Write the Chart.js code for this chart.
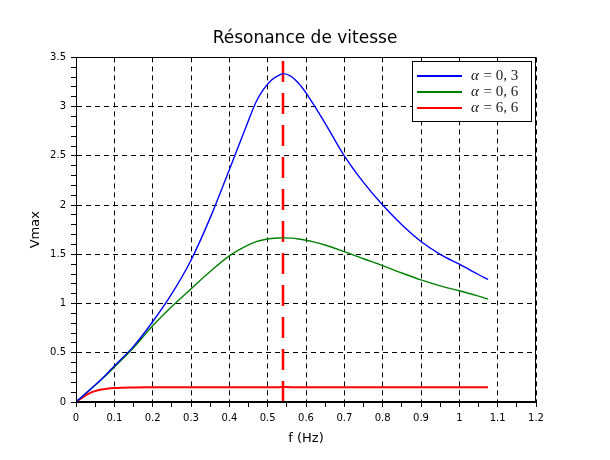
<!DOCTYPE html>
<html>
<head>
<meta charset="utf-8">
<script src="https://cdn.jsdelivr.net/npm/chart.js@4/dist/chart.umd.min.js"></script>
<style>
  html, body { margin: 0; padding: 0; background: #fff; }
  #wrap { width: 610px; height: 460px; }
</style>
</head>
<body>
<div id="wrap"><canvas id="vmax-chart" width="610" height="460"></canvas></div>
<script>
// frequencies (Hz)
const freqHz = [0, 0.02, 0.04, 0.06, 0.08, 0.1, 0.15, 0.2, 0.25, 0.3, 0.35, 0.4, 0.45, 0.47, 0.49, 0.51,
  0.53, 0.54, 0.56, 0.58, 0.6, 0.62, 0.65, 0.7, 0.75, 0.8, 0.85, 0.9, 0.95, 1.0, 1.05, 1.075];

// Vmax for each damping value
const vmaxA03 = [0, 0.069, 0.138, 0.208, 0.285, 0.366, 0.565, 0.815, 1.10, 1.44, 1.87, 2.36, 2.86, 3.05, 3.18, 3.27,
  3.32, 3.335, 3.31, 3.24, 3.14, 3.02, 2.83, 2.50, 2.23, 2.0, 1.80, 1.63, 1.50, 1.40, 1.295, 1.245];
const vmaxA06 = [0, 0.069, 0.137, 0.206, 0.276, 0.354, 0.55, 0.774, 0.97, 1.149, 1.325, 1.484, 1.595, 1.628, 1.648, 1.66,
  1.666, 1.667, 1.664, 1.656, 1.643, 1.626, 1.595, 1.527, 1.455, 1.385, 1.31, 1.24, 1.18, 1.13, 1.075, 1.045];
const vmaxA66 = [0, 0.055, 0.097, 0.122, 0.134, 0.141, 0.147, 0.149, 0.15, 0.15, 0.151, 0.151, 0.151, 0.151, 0.151, 0.151,
  0.151, 0.1515, 0.151, 0.151, 0.151, 0.151, 0.151, 0.151, 0.15, 0.15, 0.15, 0.15, 0.149, 0.149, 0.149, 0.149];

const seriesLabels = ["0,3", "0,6", "6,6"];
const seriesColors = ["#0000ff", "#008000", "#ff0000"];

const fResonance = 0.54; // red dashed marker
const xMin = 0, xMax = 1.2, xMajor = 0.1, xMinor = 0.05;
const yMin = 0, yMax = 3.5, yMajor = 0.5, yMinor = 0.1;

function toPoints(ys) {
  return freqHz.map((f, i) => ({ x: f, y: ys[i] }));
}

function isMultiple(v, step) {
  const r = v / step;
  return Math.abs(r - Math.round(r)) < 1e-6;
}

function fmt(v) {
  return String(Math.round(v * 10) / 10);
}

// frame around the plot area (Scilab style box)
const boxPlugin = {
  id: "box",
  afterDatasetsDraw(chart) {
    const { ctx, chartArea: a } = chart;
    ctx.save();
    ctx.strokeStyle = "#000";
    ctx.lineWidth = 1;
    ctx.strokeRect(Math.round(a.left) + 0.5, Math.round(a.top) + 0.5,
      Math.round(a.right - a.left) - 1, Math.round(a.bottom - a.top) - 1);
    ctx.restore();
  }
};

// legend drawn inside the plot, top right
const legendBoxPlugin = {
  id: "legendBox",
  afterDraw(chart) {
    const { ctx, chartArea: a } = chart;
    const w = 119, h = 60;
    const left = a.right - 5 - w;
    const top = a.top + 4;
    ctx.save();
    ctx.fillStyle = "#fff";
    ctx.fillRect(left, top, w, h);
    ctx.strokeStyle = "#000";
    ctx.lineWidth = 1;
    ctx.strokeRect(Math.round(left) + 0.5, Math.round(top) + 0.5, w, h);

    seriesLabels.forEach((lab, i) => {
      const y = top + 14.5 + i * 16;
      ctx.strokeStyle = seriesColors[i];
      ctx.lineWidth = 2;
      ctx.beginPath();
      ctx.moveTo(left + 5, y);
      ctx.lineTo(left + 50, y);
      ctx.stroke();

      ctx.fillStyle = "#222";
      ctx.textBaseline = "middle";
      let x = left + 59;
      ctx.font = "italic 15px 'Liberation Serif'";
      ctx.fillText("\u03b1", x, y);
      x += ctx.measureText("\u03b1").width;
      ctx.font = "15px 'Liberation Serif'";
      const rest = " = " + lab.replace(",", ", ");
      ctx.fillText(rest, x + 1, y);
    });
    ctx.restore();
  }
};

const ctx = document.getElementById("vmax-chart").getContext("2d");

new Chart(ctx, {
  type: "line",
  data: {
    datasets: [
      {
        label: "alpha = 0,3",
        data: toPoints(vmaxA03),
        borderColor: seriesColors[0],
        borderWidth: 1.4,
        cubicInterpolationMode: "monotone",
        pointRadius: 0
      },
      {
        label: "alpha = 0,6",
        data: toPoints(vmaxA06),
        borderColor: seriesColors[1],
        borderWidth: 1.4,
        cubicInterpolationMode: "monotone",
        pointRadius: 0
      },
      {
        label: "alpha = 6,6",
        data: toPoints(vmaxA66),
        borderColor: seriesColors[2],
        borderWidth: 2,
        cubicInterpolationMode: "monotone",
        pointRadius: 0
      },
      {
        label: "resonance",
        data: [{ x: fResonance, y: yMin }, { x: fResonance, y: yMax }],
        borderColor: "#ff0000",
        borderWidth: 2.5,
        borderDash: [21, 11],
        pointRadius: 0,
        tension: 0
      }
    ]
  },
  options: {
    responsive: false,
    animation: false,
    devicePixelRatio: 1,
    layout: {
      padding: { left: 0, right: 0, top: 0, bottom: 10 }
    },
    plugins: {
      legend: { display: false },
      tooltip: { enabled: false },
      title: {
        display: true,
        text: "Résonance de vitesse",
        color: "#000",
        font: { family: "'DejaVu Sans'", size: 17, weight: "normal" },
        padding: { top: 28, bottom: 9 }
      }
    },
    scales: {
      x: {
        type: "linear",
        min: xMin,
        max: xMax,
        afterFit: (s) => { s.height = 48; },
        ticks: {
          stepSize: xMinor,
          maxTicksLimit: 100,
          autoSkip: false,
          maxRotation: 0,
          padding: 5,
          color: "#000",
          font: { family: "'DejaVu Sans'", size: 10 },
          callback: (v) => (isMultiple(v, xMajor) ? fmt(v) : "")
        },
        grid: {
          color: (c) => (c.tick && isMultiple(c.tick.value, xMajor) ? "#000" : "rgba(0,0,0,0)"),
          tickColor: "#000",
          tickLength: 5,
          lineWidth: 1
        },
        border: { display: true, color: "#000", width: 1, dash: [5, 4] },
        title: {
          display: true,
          text: "f (Hz)",
          color: "#000",
          font: { family: "'DejaVu Sans'", size: 13 },
          padding: { top: 4, bottom: 4 }
        }
      },
      y: {
        type: "linear",
        min: yMin,
        max: yMax,
        afterFit: (s) => { s.width = 76; },
        ticks: {
          stepSize: yMinor,
          maxTicksLimit: 100,
          autoSkip: false,
          padding: 5,
          color: "#000",
          font: { family: "'DejaVu Sans'", size: 10 },
          callback: (v) => (isMultiple(v, yMajor) ? fmt(v) : "")
        },
        grid: {
          color: (c) => (c.tick && isMultiple(c.tick.value, yMajor) ? "#000" : "rgba(0,0,0,0)"),
          tickColor: "#000",
          tickLength: 5,
          lineWidth: 1
        },
        border: { display: true, color: "#000", width: 1, dash: [5, 4] },
        title: {
          display: true,
          text: "Vmax",
          color: "#000",
          font: { family: "'DejaVu Sans'", size: 13 },
          padding: { top: 28, bottom: 4 }
        }
      },
      // empty right axis, only reserves the right margin so the title stays centred
      yRight: {
        type: "linear",
        position: "right",
        min: yMin,
        max: yMax,
        afterFit: (s) => { s.width = 74; },
        grid: { display: false, drawTicks: false },
        ticks: { display: false },
        border: { display: false }
      }
    }
  },
  plugins: [boxPlugin, legendBoxPlugin]
});
</script>
</body>
</html>
